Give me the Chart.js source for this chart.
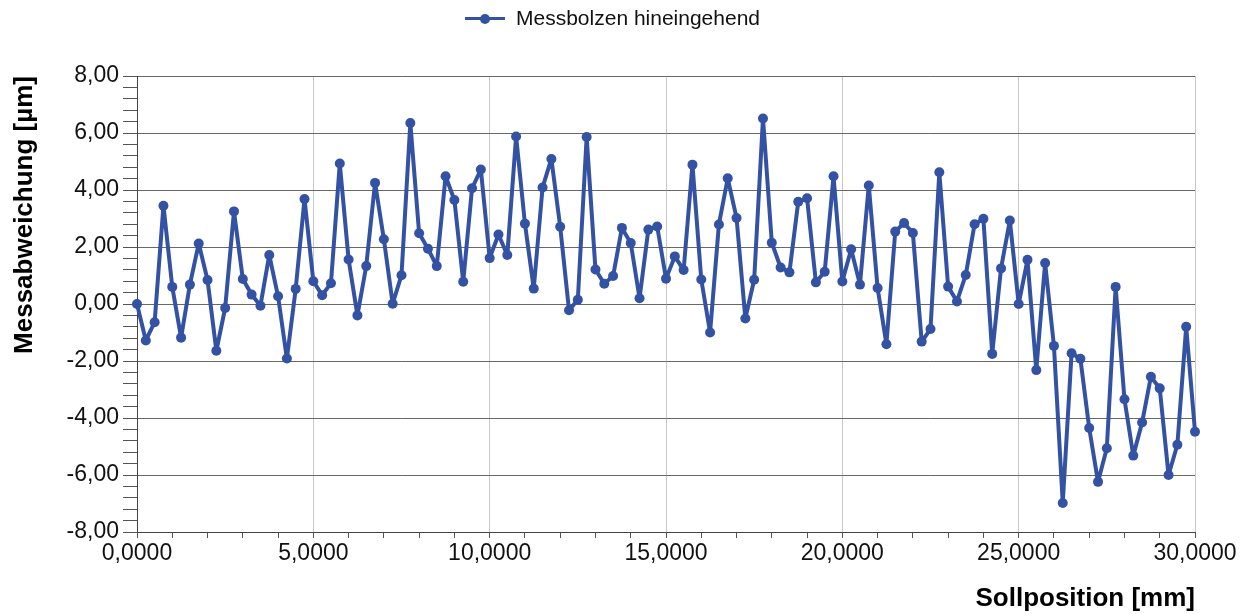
<!DOCTYPE html>
<html lang="de">
<head>
    <meta charset="UTF-8">
    <title>Messabweichung</title>
    <script src="https://cdn.jsdelivr.net/npm/chart.js@4.4.2/dist/chart.umd.min.js"></script>
    <style>
        body { margin: 0; background: #fff; font-family: 'Liberation Sans', Arial, sans-serif; }
        #wrap { position: relative; width: 1247px; height: 614px; }
        #legend {
            position: absolute; top: 6px; left: 465px;
            display: flex; align-items: center; font-size: 21px; color: #111;
        }
        #legend .sym { position: relative; width: 40px; height: 24px; margin-right: 11px; }
        #legend .sym::before {
            content: ''; position: absolute; left: 0; right: 0; top: 11px; height: 3px; background: #3452a4;
        }
        #legend .sym::after {
            content: ''; position: absolute; left: 15px; top: 7.5px; width: 10px; height: 10px;
            border-radius: 50%; background: #3452a4;
        }
    </style>
</head>
<body>
<div id="wrap">
    <canvas id="chart" width="1247" height="614"></canvas>
    <div id="legend"><span class="sym"></span><span>Messbolzen hineingehend</span></div>
</div>
<script>
// Sollposition [mm]
const positions = [
    0, 0.25, 0.5, 0.75, 1, 1.25, 1.5, 1.75, 2, 2.25, 2.5, 2.75, 3, 3.25, 3.5, 3.75,
    4, 4.25, 4.5, 4.75, 5, 5.25, 5.5, 5.75, 6, 6.25, 6.5, 6.75, 7, 7.25, 7.5, 7.75,
    8, 8.25, 8.5, 8.75, 9, 9.25, 9.5, 9.75, 10, 10.25, 10.5, 10.75, 11, 11.25, 11.5, 11.75,
    12, 12.25, 12.5, 12.75, 13, 13.25, 13.5, 13.75, 14, 14.25, 14.5, 14.75, 15, 15.25, 15.5, 15.75,
    16, 16.25, 16.5, 16.75, 17, 17.25, 17.5, 17.75, 18, 18.25, 18.5, 18.75, 19, 19.25, 19.5, 19.75,
    20, 20.25, 20.5, 20.75, 21, 21.25, 21.5, 21.75, 22, 22.25, 22.5, 22.75, 23, 23.25, 23.5, 23.75,
    24, 24.25, 24.5, 24.75, 25, 25.25, 25.5, 25.75, 26, 26.25, 26.5, 26.75, 27, 27.25, 27.5, 27.75,
    28, 28.25, 28.5, 28.75, 29, 29.25, 29.5, 29.75, 30
];

// Messabweichung [µm]
const deviations = [
    0.00, -1.28, -0.64, 3.45, 0.60, -1.18, 0.68, 2.12, 0.84, -1.64, -0.14, 3.25, 0.88, 0.33, -0.06, 1.72,
    0.27, -1.91, 0.53, 3.68, 0.80, 0.31, 0.73, 4.93, 1.56, -0.40, 1.33, 4.25, 2.27, 0.01, 1.01, 6.35,
    2.48, 1.94, 1.33, 4.48, 3.65, 0.78, 4.06, 4.72, 1.61, 2.44, 1.72, 5.88, 2.82, 0.54, 4.09, 5.09,
    2.71, -0.22, 0.15, 5.86, 1.21, 0.71, 0.98, 2.67, 2.14, 0.20, 2.61, 2.72, 0.89, 1.67, 1.19, 4.89,
    0.86, -1.00, 2.79, 4.41, 3.02, -0.51, 0.85, 6.51, 2.15, 1.28, 1.11, 3.59, 3.71, 0.76, 1.13, 4.48,
    0.79, 1.92, 0.68, 4.16, 0.56, -1.41, 2.54, 2.84, 2.49, -1.32, -0.88, 4.62, 0.61, 0.09, 1.02, 2.80,
    2.99, -1.75, 1.25, 2.93, 0.00, 1.55, -2.32, 1.44, -1.47, -6.98, -1.73, -1.92, -4.35, -6.24, -5.06, 0.60,
    -3.34, -5.32, -4.16, -2.55, -2.96, -6.00, -4.94, -0.80, -4.48
];

const seriesLabel = 'Messbolzen hineingehend';
const lineColor = '#3452a4';

const isMultiple = (v, step) => Math.abs(v / step - Math.round(v / step)) < 1e-6;
const fmt = (v, d) => v.toFixed(d).replace('.', ',');

const ctx = document.getElementById('chart').getContext('2d');
new Chart(ctx, {
    type: 'line',
    data: {
        datasets: [{
            label: seriesLabel,
            data: positions.map((x, i) => ({ x: x, y: deviations[i] })),
            borderColor: lineColor,
            backgroundColor: lineColor,
            borderWidth: 4,
            borderJoinStyle: 'round',
            borderCapStyle: 'round',
            pointRadius: 5,
            pointBorderWidth: 0,
            pointHoverRadius: 5,
            tension: 0,
            clip: false
        }]
    },
    options: {
        responsive: false,
        animation: false,
        layout: { padding: { top: 76, right: 52, bottom: 0, left: 0 } },
        plugins: {
            legend: { display: false },
            tooltip: { enabled: false }
        },
        scales: {
            x: {
                type: 'linear',
                min: 0,
                max: 30,
                afterFit: (scale) => { scale.height = 82; },
                ticks: {
                    stepSize: 1,
                    autoSkip: false,
                    maxRotation: 0,
                    padding: 2,
                    color: '#111',
                    font: { family: 'Liberation Sans', size: 23 },
                    callback: (v) => isMultiple(v, 5) ? fmt(v, 4) : ''
                },
                grid: {
                    color: (c) => isMultiple(c.tick.value, 5) ? '#c8c8c8' : 'rgba(0,0,0,0)',
                    tickColor: '#555',
                    tickLength: 6,
                    lineWidth: 1
                },
                border: { color: '#444', width: 1 },
                title: {
                    display: true,
                    text: 'Sollposition [mm]',
                    align: 'end',
                    color: '#000',
                    font: { family: 'Liberation Sans', size: 26, weight: 'bold' },
                    padding: { top: 0, bottom: 0 }
                }
            },
            y: {
                min: -8,
                max: 8,
                afterFit: (scale) => { scale.width = 137; },
                ticks: {
                    stepSize: 0.4,
                    autoSkip: false,
                    padding: 4,
                    color: '#111',
                    font: { family: 'Liberation Sans', size: 23 },
                    callback: (v) => isMultiple(v, 2) ? fmt(v, 2) : ''
                },
                grid: {
                    color: (c) => isMultiple(c.tick.value, 2) ? '#6e6662' : 'rgba(0,0,0,0)',
                    tickColor: '#555',
                    tickLength: 14,
                    lineWidth: 1
                },
                border: { color: '#444', width: 1 },
                title: {
                    display: true,
                    text: 'Messabweichung [µm]',
                    align: 'end',
                    color: '#000',
                    font: { family: 'Liberation Sans', size: 26, weight: 'bold' },
                    padding: { top: 9, bottom: 0 }
                }
            }
        }
    }
});
</script>
</body>
</html>
